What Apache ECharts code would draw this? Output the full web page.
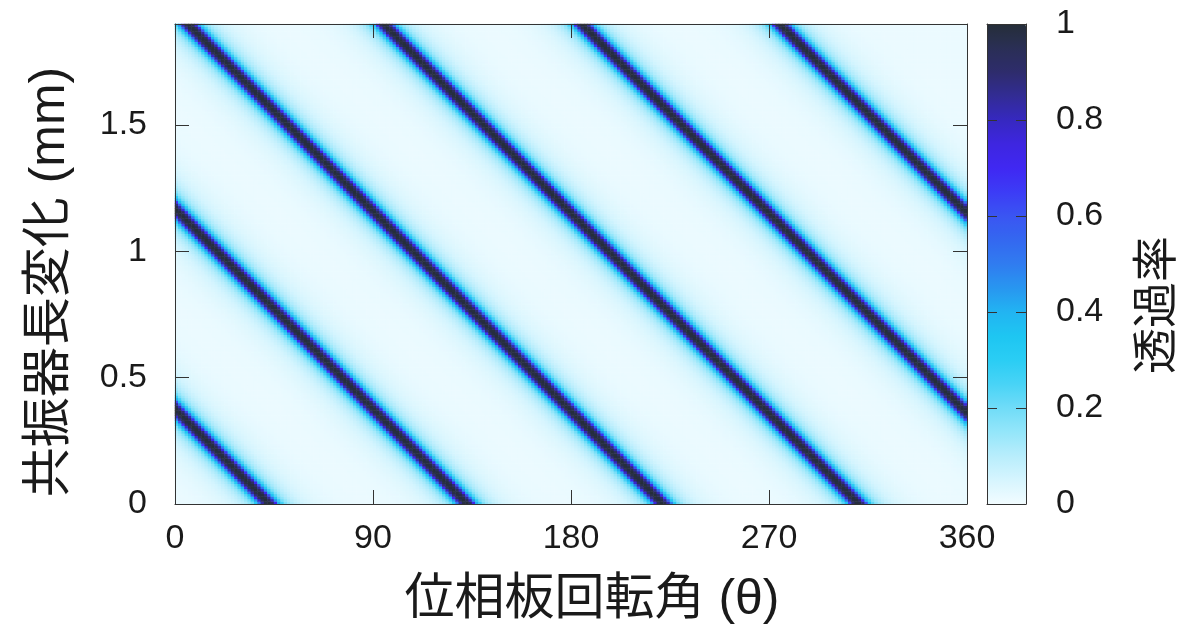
<!DOCTYPE html>
<html>
<head>
<meta charset="utf-8">
<script src="https://cdn.jsdelivr.net/npm/echarts@6/dist/echarts.min.js"></script>
<style>
html, body { margin: 0; background: #fff; }
#chart { width: 1204px; height: 625px; }
</style>
</head>
<body>
<div id="chart"></div>
<script>
// axis ticks
const xTicks = [0, 90, 180, 270, 360];
const yTicks = [0, 0.5, 1, 1.5];
const cbTicks = [0, 0.2, 0.4, 0.6, 0.8, 1];

// resonance lines: angle (deg) where each dark line meets length 0, and its slope (mm per deg)
const lineZeroAngles = [43, 133, 222, 311, 401, 491];
const lineSlope = 0.0088;

// transmission across a line: horizontal offset (deg) -> value
const profileOffset = [0, 1, 2, 3, 3.5, 4, 4.5, 5, 6, 7, 8, 10, 13, 16, 20, 25, 30, 35, 45];
const profileValue = [1.0, 0.98, 0.92, 0.8, 0.68, 0.55, 0.45, 0.38, 0.28, 0.21, 0.17, 0.12, 0.08, 0.055, 0.038, 0.026, 0.019, 0.015, 0.012];

// colour bar stops (0 -> 1)
const barColors = ['#f2fcff', '#d6f5fe', '#b8edfc', '#94e6fa', '#70dcf8', '#48d3f6', '#2acdf4',
  '#1ec6f2', '#22b4f2', '#2896f0', '#307cf0', '#3468f0', '#3a55f2', '#3c3cf6', '#4028f2',
  '#3e26e0', '#3628c0', '#322c94', '#2e2c6c', '#2a2f55', '#252e38'];

const xMax = 360, yMax = 1.9;
const nx = 240, ny = 190;

function lookup(d) {
  for (let k = 1; k < profileOffset.length; k++) {
    if (d <= profileOffset[k]) {
      const t = (d - profileOffset[k - 1]) / (profileOffset[k] - profileOffset[k - 1]);
      return profileValue[k - 1] + t * (profileValue[k] - profileValue[k - 1]);
    }
  }
  return profileValue[profileValue.length - 1];
}

const xCats = [], yCats = [], cells = [];
for (let i = 0; i < nx; i++) xCats.push(i);
for (let j = 0; j < ny; j++) yCats.push(j);
for (let i = 0; i < nx; i++) {
  const th = (i + 0.5) * xMax / nx;
  for (let j = 0; j < ny; j++) {
    const len = (j + 0.5) * yMax / ny;
    const a = th + len / lineSlope;
    let d = 999;
    lineZeroAngles.forEach(function (x0) { d = Math.min(d, Math.abs(a - x0)); });
    cells.push([i, j, lookup(d)]);
  }
}

const font = "'Liberation Sans', 'Noto Sans CJK JP', sans-serif";
const ink = '#1a1a1a';
const edge = { show: true, onZero: false, lineStyle: { color: '#333', width: 1 } };
const tick = (len) => ({ inside: true, length: len, lineStyle: { color: '#333' } });
const tickLabel = (m) => ({ fontSize: 34, color: ink, fontFamily: font, margin: m });

const chart = echarts.init(document.getElementById('chart'));
chart.setOption({
  animation: false,
  backgroundColor: '#fff',
  grid: [
    { left: 175, top: 24, width: 792, height: 480 },
    { left: 175, top: 24, width: 792, height: 480 },
    { left: 987, top: 24, width: 39, height: 480 }
  ],
  xAxis: [
    { type: 'category', gridIndex: 0, data: xCats, show: false },
    {
      type: 'value', gridIndex: 1, min: 0, max: xMax, interval: 90, position: 'bottom', z: 10,
      axisLine: edge, axisTick: tick(14), splitLine: { show: false },
      axisLabel: Object.assign(tickLabel(18), { formatter: (v) => xTicks.includes(v) ? String(v) : '' })
    },
    {
      type: 'value', gridIndex: 1, min: 0, max: xMax, interval: 90, position: 'top', z: 10,
      axisLine: edge, axisTick: tick(14), splitLine: { show: false }, axisLabel: { show: false }
    },
    {
      type: 'value', gridIndex: 2, min: 0, max: 1, position: 'bottom', z: 10,
      axisLine: edge, axisTick: { show: false }, axisLabel: { show: false }, splitLine: { show: false }
    },
    {
      type: 'value', gridIndex: 2, min: 0, max: 1, position: 'top', z: 10,
      axisLine: edge, axisTick: { show: false }, axisLabel: { show: false }, splitLine: { show: false }
    }
  ],
  yAxis: [
    { type: 'category', gridIndex: 0, data: yCats, show: false },
    {
      type: 'value', gridIndex: 1, min: 0, max: yMax, interval: 0.5, position: 'left', z: 10,
      axisLine: edge, axisTick: tick(14), splitLine: { show: false },
      axisLabel: Object.assign(tickLabel(28), { formatter: (v) => yTicks.includes(v) ? String(v) : '' })
    },
    {
      type: 'value', gridIndex: 1, min: 0, max: yMax, interval: 0.5, position: 'right', z: 10,
      axisLine: edge, axisTick: tick(14), splitLine: { show: false }, axisLabel: { show: false }
    },
    {
      type: 'value', gridIndex: 2, min: 0, max: 1, interval: 0.2, position: 'left', z: 10,
      axisLine: edge, axisTick: tick(10), splitLine: { show: false }, axisLabel: { show: false }
    },
    {
      type: 'value', gridIndex: 2, min: 0, max: 1, interval: 0.2, position: 'right', z: 10,
      axisLine: edge, axisTick: tick(10), splitLine: { show: false },
      axisLabel: Object.assign(tickLabel(30), { formatter: (v) => cbTicks.some((t) => Math.abs(t - v) < 1e-9) ? String(+v.toFixed(1)) : '' })
    }
  ],
  visualMap: {
    type: 'continuous', min: 0, max: 1, seriesIndex: 0, calculable: false,
    left: 987, top: 24, itemWidth: 39, itemHeight: 480, padding: 0,
    text: null, inRange: { color: barColors }
  },
  graphic: [
    {
      type: 'text', x: 592, y: 600, z: 20,
      style: { text: '位相板回転角 (θ)', font: '50px ' + font, fill: ink, textAlign: 'center', textVerticalAlign: 'middle' }
    },
    {
      type: 'text', x: 50, y: 282, rotation: Math.PI / 2, z: 20,
      style: { text: '共振器長変化 (mm)', font: '50px ' + font, fill: ink, textAlign: 'center', textVerticalAlign: 'middle' }
    },
    {
      type: 'text', x: 1158, y: 305, rotation: Math.PI / 2, z: 20,
      style: { text: '透過率', font: '46px ' + font, fill: ink, textAlign: 'center', textVerticalAlign: 'middle' }
    }
  ],
  series: [{
    type: 'heatmap', xAxisIndex: 0, yAxisIndex: 0, data: cells,
    progressive: 0, z: 1, emphasis: { disabled: true }
  }]
});
</script>
</body>
</html>
